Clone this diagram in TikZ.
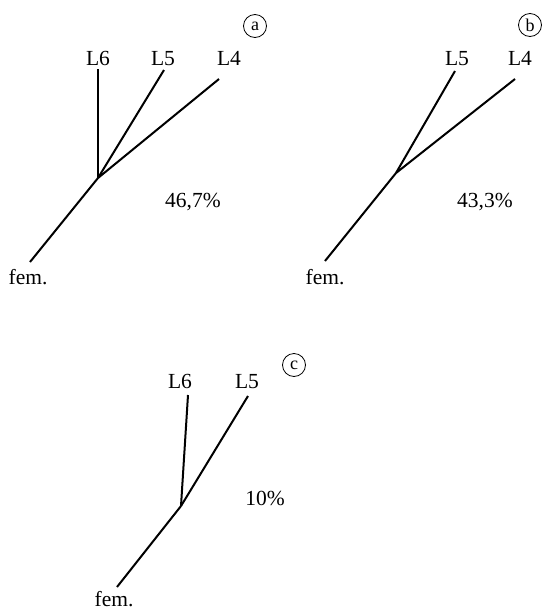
\documentclass[tikz,border=0pt]{standalone}
\usepackage{fontspec}
\setmainfont{Liberation Serif}
\begin{document}
\begin{tikzpicture}[x=1pt,y=-1pt,
  lbl/.style={inner sep=0pt,anchor=base,font=\fontsize{21.5}{24}\selectfont},
  br/.style={line width=2pt},
  tag/.style={circle,draw,line width=0.8pt,inner sep=0pt,minimum size=23pt,font=\fontsize{18}{20}\selectfont}]
\useasboundingbox (0,0) rectangle (545,611);
% panel a
\coordinate (aj) at (98,178);
\coordinate (a6) at (98,69);
\coordinate (a5) at (164,70);
\coordinate (a4) at (219,79);
\coordinate (af) at (30,262);
\draw[br,line width=2.4pt] (aj) -- (a6);
\draw[br] (aj) -- (a5);
\draw[br] (aj) -- (a4);
\draw[br] (aj) -- (af);
\node[lbl] (aL6) at (98,65) {L6};
\node[lbl] (aL5) at (163,65) {L5};
\node[lbl] (aL4) at (229,65) {L4};
\node[lbl] (afem) at (28,284) {fem.};
\node[lbl] (ap) at (193,207) {46,7\%};
\node[tag] (at) at (255,26) {a};
% panel b
\coordinate (bj) at (396,173);
\coordinate (b5) at (455,71);
\coordinate (b4) at (515,79);
\coordinate (bf) at (325,261);
\draw[br] (bj) -- (b5);
\draw[br] (bj) -- (b4);
\draw[br] (bj) -- (bf);
\node[lbl] (bL5) at (457,65) {L5};
\node[lbl] (bL4) at (520,65) {L4};
\node[lbl] (bfem) at (325,284) {fem.};
\node[lbl] (bp) at (485,207) {43,3\%};
\node[tag] (bt) at (530,25) {b};
% panel c
\coordinate (cj) at (181,506);
\coordinate (c6) at (188,395);
\coordinate (c5) at (248,396);
\coordinate (cf) at (117,587);
\draw[br] (cj) -- (c6);
\draw[br] (cj) -- (c5);
\draw[br] (cj) -- (cf);
\node[lbl] (cL6) at (180,388) {L6};
\node[lbl] (cL5) at (247,388) {L5};
\node[lbl] (cfem) at (114,606) {fem.};
\node[lbl] (cp) at (265,505) {10\%};
\node[tag] (ct) at (294,365) {c};
\end{tikzpicture}
\end{document}
